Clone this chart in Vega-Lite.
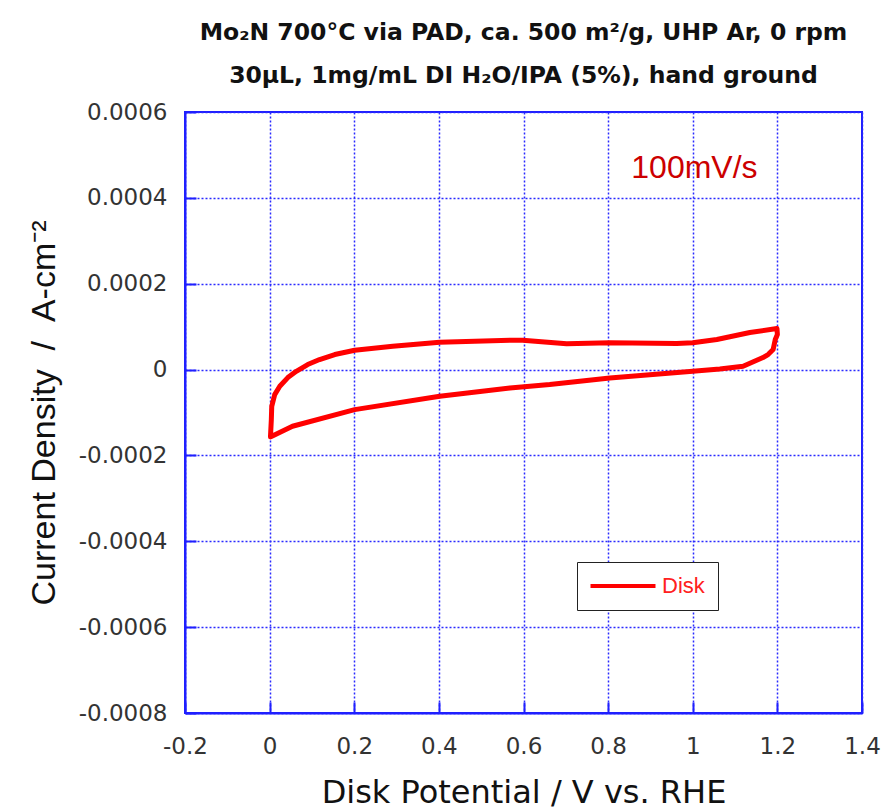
{
  "$schema": "https://vega.github.io/schema/vega-lite/v6.json",
  "autosize": {"type": "none"},
  "width": 677,
  "height": 601,
  "padding": {"left": 185, "top": 112, "right": 21, "bottom": 99},
  "background": "white",
  "title": {
    "text": ["Mo₂N 700°C via PAD, ca. 500 m²/g, UHP Ar, 0 rpm", "30µL, 1mg/mL DI H₂O/IPA (5%), hand ground"],
    "font": "DejaVu Sans",
    "fontSize": 23.5,
    "fontWeight": "bold",
    "color": "#111111",
    "lineHeight": 43,
    "anchor": "middle",
    "offset": 14
  },
  "config": {
    "view": {"stroke": "#1f1fff", "strokeWidth": 2},
    "axis": {
      "domainColor": "#1f1fff",
      "domainWidth": 2,
      "gridColor": "#2a2aff",
      "gridDash": [2, 2],
      "gridWidth": 1.5,
      "gridOpacity": 1,
      "tickColor": "#1f1fff",
      "tickWidth": 2,
      "tickSize": -11,
      "labelFont": "DejaVu Sans",
      "labelFontSize": 23,
      "labelColor": "#333333",
      "titleFontWeight": "normal",
      "titleColor": "#111111"
    }
  },
  "data": {
    "values": [
      {"i": 1, "V": 0.002, "J": -0.000157},
      {"i": 2, "V": 0.004, "J": -0.000117},
      {"i": 3, "V": 0.005, "J": -0.0000856},
      {"i": 4, "V": 0.012, "J": -0.0000583},
      {"i": 5, "V": 0.024, "J": -0.000039},
      {"i": 6, "V": 0.043, "J": -0.0000187},
      {"i": 7, "V": 0.063, "J": -0.000004},
      {"i": 8, "V": 0.09, "J": 0.0000117},
      {"i": 9, "V": 0.118, "J": 0.0000233},
      {"i": 10, "V": 0.154, "J": 0.000035},
      {"i": 11, "V": 0.201, "J": 0.000045},
      {"i": 12, "V": 0.291, "J": 0.0000543},
      {"i": 13, "V": 0.402, "J": 0.0000637},
      {"i": 14, "V": 0.568, "J": 0.0000683},
      {"i": 15, "V": 0.598, "J": 0.0000683},
      {"i": 16, "V": 0.702, "J": 0.00006},
      {"i": 17, "V": 0.804, "J": 0.0000623},
      {"i": 18, "V": 0.962, "J": 0.0000606},
      {"i": 19, "V": 1.0, "J": 0.0000623},
      {"i": 20, "V": 1.057, "J": 0.00007},
      {"i": 21, "V": 1.135, "J": 0.0000863},
      {"i": 22, "V": 1.199, "J": 0.0000956},
      {"i": 23, "V": 1.2, "J": 0.0000816},
      {"i": 24, "V": 1.195, "J": 0.00007},
      {"i": 25, "V": 1.19, "J": 0.0000466},
      {"i": 26, "V": 1.178, "J": 0.000035},
      {"i": 27, "V": 1.166, "J": 0.000028},
      {"i": 28, "V": 1.119, "J": 0.0000077},
      {"i": 29, "V": 1.064, "J": 0.0000012},
      {"i": 30, "V": 1.0, "J": -0.000004},
      {"i": 31, "V": 0.804, "J": -0.0000194},
      {"i": 32, "V": 0.662, "J": -0.000035},
      {"i": 33, "V": 0.568, "J": -0.0000427},
      {"i": 34, "V": 0.402, "J": -0.0000623},
      {"i": 35, "V": 0.201, "J": -0.0000933},
      {"i": 36, "V": 0.054, "J": -0.000132},
      {"i": 37, "V": 0.004, "J": -0.000156}
    ]
  },
  "layer": [
    {
      "mark": {"type": "line", "strokeWidth": 5, "strokeJoin": "round", "strokeCap": "round", "clip": true},
      "encoding": {
        "x": {
          "field": "V", "type": "quantitative",
          "scale": {"domain": [-0.2, 1.4], "nice": false, "zero": false},
          "axis": {
            "values": [-0.2, 0, 0.2, 0.4, 0.6, 0.8, 1, 1.2, 1.4],
            "labelExpr": "replace(format(datum.value, '~f'), '−', '-')",
            "labelPadding": 33,
            "labelFlush": false,
            "title": "Disk Potential / V vs. RHE",
            "titleFont": "DejaVu Sans",
            "titleFontSize": 32,
            "titlePadding": 19
          }
        },
        "y": {
          "field": "J", "type": "quantitative",
          "scale": {"domain": [-0.0008, 0.0006], "nice": false, "zero": false},
          "axis": {
            "values": [-0.0008, -0.0006, -0.0004, -0.0002, 0, 0.0002, 0.0004, 0.0006],
            "labelExpr": "replace(format(datum.value, '~f'), '−', '-')",
            "labelPadding": 29,
            "labelFlush": false,
            "title": "Current Density\u00a0\u00a0/\u00a0\u00a0A-cm⁻²",
            "titleFont": "Liberation Sans",
            "titleFontSize": 34,
            "titlePadding": 17
          }
        },
        "order": {"field": "i", "type": "quantitative"},
        "color": {
          "datum": "Disk",
          "type": "nominal",
          "scale": {"range": ["#ff0000"]},
          "legend": {
            "title": null,
            "orient": "none",
            "legendX": 392,
            "legendY": 450,
            "symbolType": "M-4,0H4",
            "symbolStrokeWidth": 4,
            "symbolSize": 264,
            "symbolOffset": 22,
            "labelFont": "Liberation Sans",
            "labelFontSize": 22,
            "labelColor": "#ff2020",
            "labelOffset": 28,
            "padding": 13,
            "strokeColor": "#222222",
            "fillColor": "white"
          }
        }
      }
    },
    {
      "data": {"values": [{"V": 1.004, "J": 0.00047, "label": "100mV/s"}]},
      "mark": {"type": "text", "font": "Liberation Sans", "fontSize": 32, "color": "#cc0000", "align": "center", "baseline": "middle"},
      "encoding": {
        "x": {"field": "V", "type": "quantitative"},
        "y": {"field": "J", "type": "quantitative"},
        "text": {"field": "label"}
      }
    }
  ]
}
